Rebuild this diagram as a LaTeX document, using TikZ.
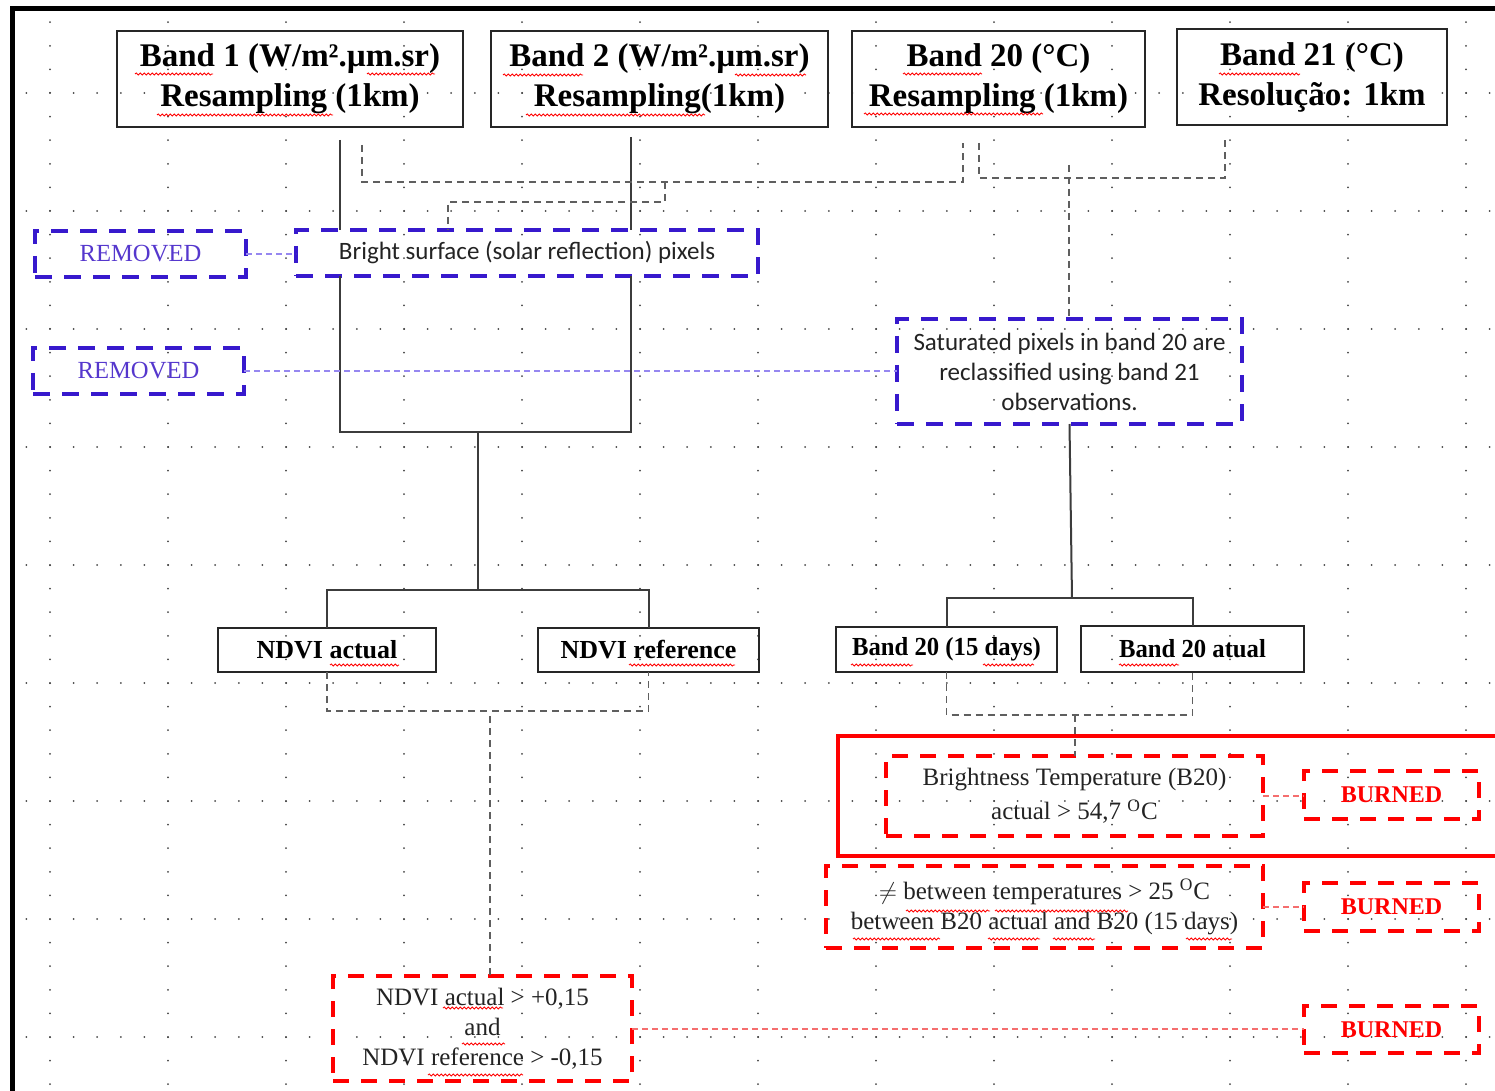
\documentclass[tikz,border=0pt]{standalone}
\usepackage{fontspec}
\usepackage{graphicx}
\setmainfont{Liberation Serif}
\newfontfamily\calfont{Carlito}
\usetikzlibrary{decorations.pathmorphing,calc}

\definecolor{gridgray}{RGB}{70,70,70}
\definecolor{boxblue}{RGB}{55,25,205}
\definecolor{txtblue}{RGB}{85,55,205}
\definecolor{lavender}{RGB}{150,135,240}
\definecolor{lightred}{RGB}{245,110,110}
\definecolor{linkgray}{RGB}{95,95,95}
\definecolor{wirecol}{RGB}{60,60,60}
\definecolor{inkdark}{RGB}{35,35,35}

% box given by its corners in canvas units (one unit = 0.5pt)
\newcommand\pxbox[7]{%
  \node[#2, minimum width={(#5-#3)*0.5pt}, minimum height={(#6-#4)*0.5pt}]
    (#1) at ({(#3+#5)/2},{(#4+#6)/2}) {#7};}

\begin{document}
\begin{tikzpicture}[x=0.5pt,y=-0.5pt,
  every node/.style={inner sep=0pt, outer sep=0pt, align=center},
  bandbox/.style={draw=black!85, line width=1.2pt, font=\bfseries\fontsize{16.5}{20}\selectfont},
  smallband/.style={draw=black!85, line width=1.2pt, font=\bfseries\fontsize{13}{15}\selectfont},
  bluebox/.style={draw=boxblue, line width=2pt, dash pattern=on 8.5pt off 6pt},
  removedbox/.style={bluebox, text=txtblue, font=\fontsize{12.3}{14}\selectfont},
  notebox/.style={bluebox, text=inkdark, font=\calfont\fontsize{12.5}{15}\selectfont},
  redbox/.style={draw=red, line width=2pt, dash pattern=on 8pt off 6pt},
  rulebox/.style={redbox, text=inkdark, font=\fontsize{12.5}{15}\selectfont},
  burnedbox/.style={redbox, text=red, font=\bfseries\fontsize{12}{14}\selectfont},
  wire/.style={draw=wirecol, line width=1pt},
  link/.style={draw=linkgray, line width=0.9pt, dash pattern=on 3.5pt off 2.5pt},
  bluelink/.style={draw=lavender, line width=1pt, dash pattern=on 3pt off 2pt},
  redlink/.style={draw=lightred, line width=1pt, dash pattern=on 3pt off 2pt},
  spell/.style={draw=red, line width=0.4pt, decorate, decoration={snake, amplitude=0.55pt, segment length=2pt}},
  dot/.style={fill=gridgray}
]
\useasboundingbox (0,0) rectangle (1495,1091);
\clip (0,0) rectangle (1495,1091);

% drawing grid
\foreach \c in {0,...,12}{\foreach \r in {0,...,45}{
  \fill[dot] ({50+118*\c},{22.2+23.6*\r}) circle[radius=0.5pt];}}
\foreach \r in {0,...,8}{\foreach \c in {0,...,62}{
  \fill[dot] ({26.4+23.6*\c},{93+118*\r}) circle[radius=0.5pt];}}

% page frame
\draw[line width=2.4pt] (12.5,1100) -- (12.5,8.5) -- (1510,8.5);

% input bands
\pxbox{b1}{bandbox}{117}{31}{463}{127}{Band 1 (W/m².µm.sr)\\Resampling (1km)}
\pxbox{b2}{bandbox}{491}{31}{828}{127}{Band 2 (W/m².µm.sr)\\Resampling(1km)}
\pxbox{b20}{bandbox}{852}{31}{1145}{127}{Band 20 (°C)\\Resampling (1km)}
\pxbox{b21}{bandbox}{1177}{29}{1447}{125}{Band 21 (°C)\\Resolução: 1km}

% masking steps
\pxbox{rm1}{removedbox}{35}{231}{246}{277}{REMOVED}
\pxbox{br}{notebox}{296}{230}{758}{276}{Bright surface (solar reflection) pixels}
\pxbox{rm2}{removedbox}{33}{348}{244}{394}{REMOVED}
\pxbox{sat}{notebox}{897}{319}{1242}{424}{Saturated pixels in band 20 are\\reclassified using band 21\\observations.}

% derived products
\pxbox{nda}{smallband}{218}{628}{436}{672}{NDVI actual}
\pxbox{ndr}{smallband}{538}{628}{759}{672}{NDVI reference}
\pxbox{b15}{smallband}{836}{627}{1057}{672}{\scalebox{0.95}[1]{Band 20 (15 days)}}
\pxbox{bat}{smallband}{1081}{626}{1304}{672}{\scalebox{0.95}[1]{Band 20 atual}}

% decision rules
\draw[draw=red, line width=2pt] (838,736) rectangle (1530,856);
\pxbox{bt}{rulebox,font=\fontsize{12.5}{17}\selectfont}{886}{756}{1263}{836}{Brightness Temperature (B20)\\actual > 54,7 \textsuperscript{O}C}
\pxbox{ne}{rulebox}{826}{866}{1263}{948}{$\neq$ between temperatures > 25 \textsuperscript{O}C\\between B20 actual and B20 (15 days)}
\pxbox{ndc}{rulebox}{333}{976}{632}{1081}{NDVI actual > +0,15\\and\\NDVI reference > -0,15}
\pxbox{bu1}{burnedbox}{1304}{771}{1479}{819}{BURNED}
\pxbox{bu2}{burnedbox}{1304}{883}{1479}{931}{BURNED}
\pxbox{bu3}{burnedbox}{1304}{1006}{1479}{1053}{BURNED}

% solid tree connectors
\coordinate (jL) at (340,432);
\coordinate (jR) at (631,432);
\coordinate (jM) at (478,432);
\coordinate (jN) at (478,590);
\coordinate (jS) at (1072,598);
\draw[wire] ([yshift=-6.5pt]b1.south -| jL) -- (br.north -| jL);
\draw[wire] ([yshift=-5pt]b2.south -| jR) -- (br.north -| jR);
\draw[wire] (br.south -| jL) -- (jL) -- (jR) -- (br.south -| jR);
\draw[wire] (jM) -- (jN);
\draw[wire] (nda.north) |- (jN) -| (ndr.north);
\draw[wire] (sat.south) -- (jS);
\draw[wire] (b15.north) |- (jS) -| (bat.north);

% dashed links
\coordinate (d1a) at (362,182);
\coordinate (d1b) at (963,182);
\draw[link] ([yshift=-9pt]b1.south -| d1a) -- (d1a) -- (d1b) -- ([yshift=-8pt]b20.south -| d1b);
\coordinate (d2a) at (665,202);
\coordinate (d2b) at (448,202);
\draw[link] (d1a -| d2a) -- (d2a) -- (d2b) -- (br.north -| d2b);
\coordinate (d3a) at (979,178);
\coordinate (d3b) at (1225,178);
\draw[link] ([yshift=-8pt]b20.south -| d3a) -- (d3a) -- (d3b) -- ([yshift=-7.5pt]b21.south -| d3b);
\coordinate (d4) at (1069,165);
\draw[link] (d4) -- (sat.north -| d4);
\coordinate (d5) at (490,711);
\draw[link] (nda.south) |- (d5) -| (ndr.south);
\draw[link] ([yshift=-2.5pt]d5) -- (ndc.north -| d5);
\coordinate (d6) at (1075,715);
\draw[link] (b15.south) |- (d6) -| (bat.south);
\draw[link] (d6) -- (bt.north -| d6);

% outcome links
\draw[bluelink] (rm1.east) -- (br.west |- rm1.east);
\draw[bluelink] (rm2.east) -- (sat.west |- rm2.east);
\draw[redlink] (bt.east) -- (bu1.west |- bt.east);
\draw[redlink] (ne.east) -- (bu2.west |- ne.east);
\draw[redlink] (ndc.east) -- (bu3.west |- ndc.east);

% spell-check marks
\draw[spell] (135,74) -- (213,74);
\draw[spell] (367,74) -- (435,74);
\draw[spell] (157,115) -- (333,115);
\draw[spell] (503,75) -- (583,75);
\draw[spell] (735,75) -- (806,75);
\draw[spell] (526,115) -- (705,115);
\draw[spell] (903,74) -- (982,74);
\draw[spell] (864,114) -- (1043,114);
\draw[spell] (1219,74) -- (1300,74);
\draw[spell] (330,665) -- (399,665);
\draw[spell] (629,665) -- (735,665);
\draw[spell] (851,665) -- (913,665);
\draw[spell] (983,665) -- (1034,665);
\draw[spell] (1119,665) -- (1179,665);
\draw[spell] (906,911) -- (990,911);
\draw[spell] (995,911) -- (1128,911);
\draw[spell] (853,939) -- (940,939);
\draw[spell] (988,939) -- (1040,939);
\draw[spell] (1053,939) -- (1095,939);
\draw[spell] (1186,939) -- (1232,939);
\draw[spell] (443,1008) -- (503,1008);
\draw[spell] (462,1044) -- (505,1044);
\draw[spell] (428,1075) -- (523,1075);
\end{tikzpicture}
\end{document}
